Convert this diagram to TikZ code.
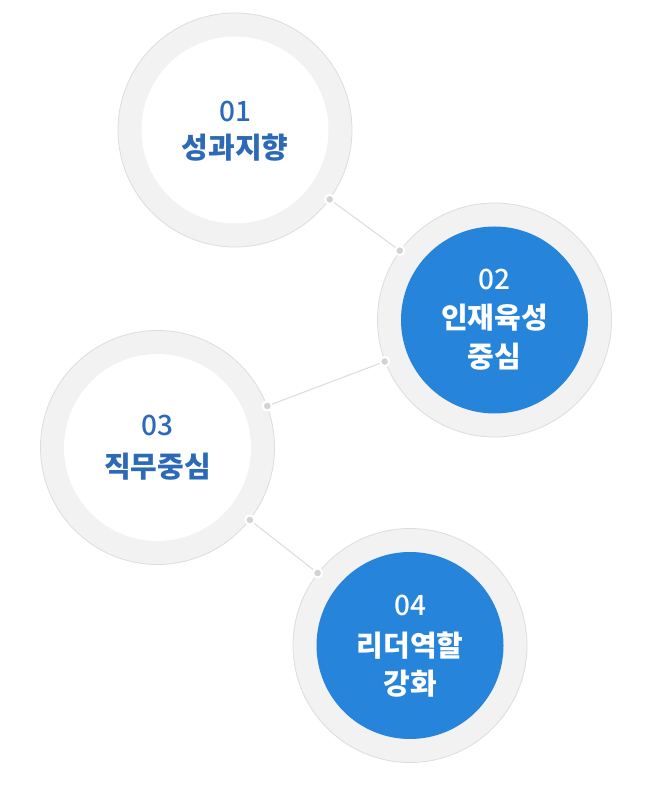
\documentclass[tikz,border=0pt]{standalone}
\usepackage{fontspec}
\newfontfamily\kr{Noto Sans CJK KR}
\newfontfamily\krmed{Noto Sans CJK KR Medium}
\definecolor{ringfill}{HTML}{F2F2F2}
\definecolor{ringline}{HTML}{DDDDDD}
\definecolor{bluefill}{HTML}{2784DB}
\definecolor{bluetext}{HTML}{2C69B7}
\definecolor{dotgrey}{HTML}{D3D3D3}
\definecolor{connline}{HTML}{DEDEDE}
\begin{document}
\begin{tikzpicture}[x=1pt,y=1pt,
  ring/.style={circle,minimum size=234pt,inner sep=0pt,draw=ringline,line width=0.8pt,fill=ringfill},
  whitecore/.style={circle,minimum size=187pt,inner sep=0pt,fill=white},
  bluecore/.style={circle,minimum size=187pt,inner sep=0pt,fill=bluefill},
  numtxt/.style={inner sep=0pt,font=\krmed\fontsize{28}{32}\selectfont},
  kortxt/.style={inner sep=0pt,font=\kr\bfseries\fontsize{29}{34}\selectfont},
  conn/.style={draw=connline,line width=1.1pt},
  dotmark/.style={circle,minimum size=9pt,inner sep=0pt,fill=dotgrey,draw=white,line width=2pt}
]
\useasboundingbox[fill=white] (0,0) rectangle (664,800);
% circles (y = 800 - pixel y)
\node[ring] (c1) at (235,670) {};
\node[ring] (c2) at (494.5,480) {};
\node[ring] (c3) at (157.5,352.5) {};
\node[ring] (c4) at (410,154.5) {};
\node[whitecore] (i1) at (c1) {};
\node[bluecore] (i2) at (c2) {};
\node[whitecore] (i3) at (c3) {};
\node[bluecore] (i4) at (c4) {};
% connectors
\path[conn] (c1) -- (c2) node[dotmark,pos=0] (d1a) {} node[dotmark,pos=1] (d1b) {};
\path[conn] (c2) -- (c3) node[dotmark,pos=0] (d2a) {} node[dotmark,pos=1] (d2b) {};
\path[conn] (c3) -- (c4) node[dotmark,pos=0] (d3a) {} node[dotmark,pos=1] (d3b) {};
% texts
\node[numtxt,text=bluetext] (n1) at ([yshift=19pt]c1.center) {01};
\node[kortxt,text=bluetext] (k1) at ([yshift=-18pt]c1.center) {성과지향};
\node[numtxt,text=white] (n2) at ([yshift=41pt]c2.center) {02};
\node[kortxt,text=white] (k2a) at ([yshift=2pt]c2.center) {인재육성};
\node[kortxt,text=white] (k2b) at ([yshift=-37pt]c2.center) {중심};
\node[numtxt,text=bluetext] (n3) at ([yshift=22pt]c3.center) {03};
\node[kortxt,text=bluetext] (k3) at ([yshift=-19pt]c3.center) {직무중심};
\node[numtxt,text=white] (n4) at ([yshift=40pt]c4.center) {04};
\node[kortxt,text=white] (k4a) at ([yshift=0pt]c4.center) {리더역할};
\node[kortxt,text=white] (k4b) at ([yshift=-38pt]c4.center) {강화};
\end{tikzpicture}
\end{document}
